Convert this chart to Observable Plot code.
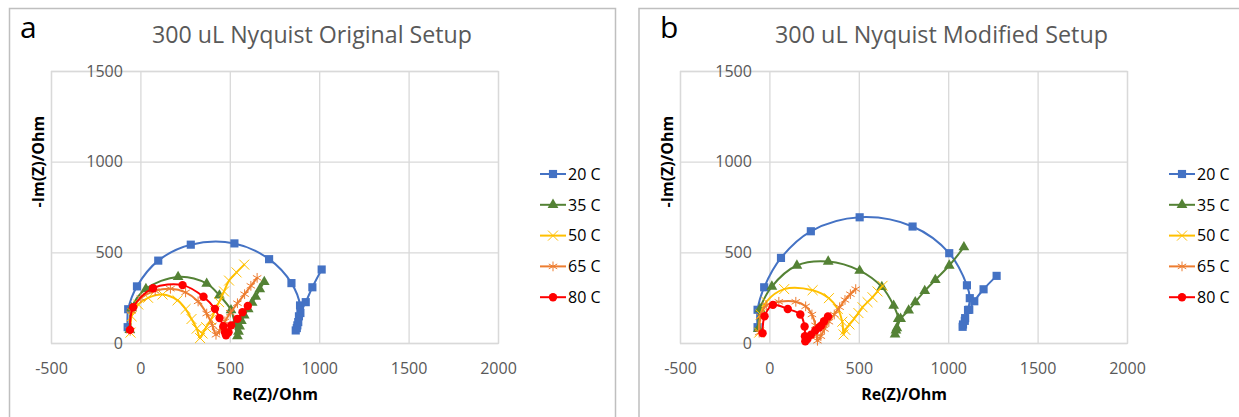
<!DOCTYPE html>
<html><head><meta charset="utf-8">
<script src="https://cdn.jsdelivr.net/npm/d3@7"></script>
<script src="https://cdn.jsdelivr.net/npm/@observablehq/plot@0.6"></script>
<style>
html,body{margin:0;padding:0;background:#fff;overflow:hidden;}
#root{position:relative;width:1239px;height:417px;overflow:hidden;background:#fff;}
.pnl{position:absolute;top:0;width:620px;height:417px;}
.pnl svg{max-width:none !important;width:620px;height:417px;}
#overlay{position:absolute;left:0;top:0;}
</style></head><body><div id="root"></div>
<script>
// ---- data ----
const seriesNames = ["20 C", "35 C", "50 C", "65 C", "80 C"];
const xTicks = [-500, 0, 500, 1000, 1500, 2000];
const yTicks = [0, 500, 1000, 1500];
const titleA = "300 uL Nyquist Original Setup";
const titleB = "300 uL Nyquist Modified Setup";
const xLabel = "Re(Z)/Ohm";
const yLabel = "-Im(Z)/Ohm";

// Panel a (Original Setup): [Re(Z), -Im(Z)]
const orig20 = [[-74,90],[-71,189],[-22,315],[97,457],[279,545],[523,552],[717,465],[842,333],[890,210],[884,150],[875,100],[866,72],[872,85],[880,118],[892,168],[922,228],[959,310],[1011,408]];
const orig35 = [[-62,75],[-52,195],[28,301],[208,367],[368,330],[439,265],[504,184],[525,110],[540,40],[546,65],[552,95],[562,125],[578,155],[600,190],[622,225],[642,258],[665,300],[690,340]];
const orig50 = [[-58,60],[-52,150],[-15,215],[40,252],[121,270],[205,238],[250,190],[283,135],[312,82],[331,30],[345,55],[365,90],[391,130],[414,180],[437,228],[465,287],[493,347],[535,392],[578,435]];
const orig65 = [[-60,70],[-52,180],[0,250],[80,290],[165,302],[250,282],[320,232],[368,165],[400,100],[420,48],[440,72],[470,122],[500,170],[540,222],[580,272],[615,318],[650,362]];
const orig80 = [[-61,75],[-43,200],[68,305],[233,322],[350,258],[414,191],[440,140],[462,95],[470,62],[476,45],[490,62],[505,100],[540,136],[568,172],[598,207]];

// Panel b (Modified Setup): [Re(Z), -Im(Z)]
const mod20 = [[-69,90],[-69,186],[-32,310],[62,472],[229,619],[502,696],[798,645],[1003,498],[1102,321],[1118,250],[1108,185],[1090,125],[1078,92],[1080,105],[1092,140],[1115,186],[1143,233],[1195,299],[1268,373]];
const mod35 = [[-65,80],[-55,190],[11,314],[151,430],[326,452],[502,402],[626,312],[692,209],[718,136],[705,72],[700,50],[710,85],[731,136],[776,182],[813,228],[866,290],[925,351],[1003,430],[1085,531]];
const mod50 = [[-60,60],[-52,160],[-20,230],[80,300],[239,294],[330,250],[380,190],[405,120],[412,50],[422,75],[445,105],[471,136],[495,168],[518,200],[546,228],[574,255],[602,287],[630,318]];
const mod65 = [[-60,60],[-52,150],[-20,210],[50,230],[145,230],[200,205],[235,160],[255,100],[263,40],[266,15],[285,40],[305,80],[330,120],[360,160],[390,200],[420,240],[450,272],[480,300]];
const mod80 = [[-41,57],[-30,150],[17,213],[100,190],[170,160],[194,94],[196,40],[198,12],[210,25],[230,48],[254,72],[275,88],[288,100],[303,123],[325,149]];

// ---- styles ----
const STY = {
  "20 C": {color: "#4472C4", symbol: "square", filled: true, r: 4.6},
  "35 C": {color: "#548235", symbol: "triangle", filled: true, r: 4},
  "50 C": {color: "#FFC000", symbol: "times", filled: false, r: 4.6},
  "65 C": {color: "#ED7D31", symbol: "asterisk", filled: false, r: 4.6},
  "80 C": {color: "#FF0000", symbol: "circle", filled: true, r: 4.2}
};
const FONT = "'Open Sans', sans-serif";
const GRID = "#d9d9d9";
const TICKC = "#595959";

function makePanel(seriesData, left) {
  const marks = [
    Plot.ruleX(xTicks, {x: d => d, stroke: GRID, strokeWidth: 1.3}),
    Plot.ruleY(yTicks, {y: d => d, stroke: GRID, strokeWidth: 1.3}),
    Plot.frame({stroke: GRID, strokeWidth: 1.3}),
    Plot.text(xTicks, {x: d => d, y: () => 0, dy: 25, text: d => String(d), fill: TICKC, fontSize: 16, fontFamily: FONT, lineAnchor: "middle", textAnchor: "middle"}),
    Plot.text(yTicks, {x: () => 0, y: d => d, dx: -18, text: d => String(d), fill: TICKC, fontSize: 16, fontFamily: FONT, lineAnchor: "middle", textAnchor: "end"}),
    Plot.text([xLabel], {frameAnchor: "bottom", dy: 51, text: d => d, fill: "#000", fontSize: 16, fontWeight: "bold", fontFamily: FONT, lineAnchor: "middle"}),
    Plot.text([yLabel], {frameAnchor: "left", dx: -13, rotate: -90, text: d => d, fill: "#000", fontSize: 16, fontWeight: "bold", fontFamily: FONT, lineAnchor: "middle"})
  ];
  seriesNames.forEach((name, i) => {
    const s = STY[name];
    const pts = seriesData[i];
    marks.push(Plot.line(pts, {x: d => d[0], y: d => d[1], stroke: s.color, strokeWidth: 2, curve: "catmull-rom"}));
    if (s.filled) {
      marks.push(Plot.dot(pts, {x: d => d[0], y: d => d[1], symbol: s.symbol, r: s.r, fill: s.color, stroke: "none"}));
    } else {
      marks.push(Plot.dot(pts, {x: d => d[0], y: d => d[1], symbol: s.symbol, r: s.r, fill: "none", stroke: s.color, strokeWidth: 1}));
    }
  });
  const chart = Plot.plot({
    width: 620, height: 417,
    marginLeft: 51, marginRight: 122, marginTop: 71, marginBottom: 74,
    x: {domain: [-500, 2000], axis: null},
    y: {domain: [0, 1500], axis: null},
    style: {background: "transparent", overflow: "visible", fontFamily: FONT, maxWidth: "none"},
    marks
  });
  const div = document.createElement("div");
  div.className = "pnl";
  div.style.left = left + "px";
  div.appendChild(chart);
  document.getElementById("root").appendChild(div);
}

makePanel([orig20, orig35, orig50, orig65, orig80], 0);
makePanel([mod20, mod35, mod50, mod65, mod80], 629);

// ---- overlay: borders, titles, letters, legends ----
const svg = d3.select("#root").append("svg").attr("id", "overlay")
  .attr("width", 1239).attr("height", 417);

[[9.5, 606], [639, 700]].forEach(([x, w]) => {
  svg.append("rect").attr("x", x).attr("y", 8.5).attr("width", w).attr("height", 600)
    .attr("fill", "none").attr("stroke", "#bfbfbf").attr("stroke-width", 1.5);
});

[[titleA, 312, 320, "a", 20], [titleB, 941.5, 333, "b", 660]].forEach(([t, cx, w, letter, lx]) => {
  svg.append("text").attr("x", cx - w / 2).attr("y", 43)
    .attr("textLength", w).attr("lengthAdjust", "spacingAndGlyphs")
    .attr("font-family", FONT).attr("font-size", 24).attr("fill", "#595959").text(t);
  svg.append("text").attr("x", lx).attr("y", 38)
    .attr("font-family", FONT).attr("font-size", 30).attr("fill", "#000").text(letter);
});

[540, 1169].forEach(x0 => {
  seriesNames.forEach((name, i) => {
    const s = STY[name];
    const cy = 174 + i * 30.8;
    const g = svg.append("g");
    g.append("line").attr("x1", x0).attr("x2", x0 + 26).attr("y1", cy).attr("y2", cy)
      .attr("stroke", s.color).attr("stroke-width", 2);
    const symMap = {square: d3.symbolSquare, triangle: d3.symbolTriangle, times: d3.symbolTimes, asterisk: d3.symbolAsterisk, circle: d3.symbolCircle};
    const p = d3.symbol(symMap[s.symbol], Math.PI * s.r * s.r)();
    g.append("path").attr("d", p).attr("transform", `translate(${x0 + 13},${cy})`)
      .attr("fill", s.filled ? s.color : "none").attr("stroke", s.filled ? "none" : s.color).attr("stroke-width", 1);
    g.append("text").attr("x", x0 + 28).attr("y", cy).attr("dy", "0.36em")
      .attr("font-family", FONT).attr("font-size", 16).attr("fill", "#000").text(name);
  });
});
</script></body></html>
